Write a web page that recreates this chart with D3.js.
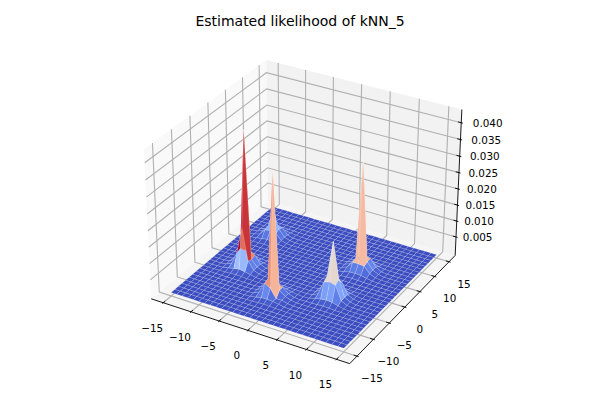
<!DOCTYPE html>
<html>
<head>
<meta charset="utf-8">
<script src="https://cdn.jsdelivr.net/npm/d3@7"></script>
<style>
  html, body { margin: 0; background: #fff; }
  text { font-family: "DejaVu Sans", sans-serif; fill: #000; }
</style>
</head>
<body>
<div id="chart"></div>
<script>
// Surface plot of a kNN density, drawn like a matplotlib 3D axes

const titleText = 'Estimated likelihood of kNN_5';

const gridX = [-15, -14, -13, -12, -11, -10, -9, -8, -7, -6, -5, -4, -3, -2, -1, 0, 1, 2, 3, 4, 5, 6, 7, 8, 9, 10, 11, 12, 13, 14, 15];
const gridY = gridX;
const floorValue = 0.0002;

const xTicks = [-15, -10, -5, 0, 5, 10, 15];
const yTicks = [-15, -10, -5, 0, 5, 10, 15];
const zTicks = [0.005, 0.01, 0.015, 0.02, 0.025, 0.03, 0.035, 0.04];
const zTickLabels = ['0.005', '0.010', '0.015', '0.020', '0.025', '0.030', '0.035', '0.040'];

// Patch centres on the grid, and the 7x7 heights read around each of them
// (rows run with y, columns with x)
const patchCentreX = [-9, -1, -10, 7, 7];
const patchCentreY = [-3, -8, 7, 5, -4];
const patchA = [
  [0.0003, 0.0003, 0.0004, 0.0005, 0.0004, 0.0003, 0.0003],
  [0.0003, 0.0006, 0.0010, 0.0013, 0.0010, 0.0006, 0.0003],
  [0.0004, 0.0012, 0.0050, 0.0135, 0.0035, 0.0011, 0.0004],
  [0.0005, 0.0015, 0.0055, 0.0420, 0.0030, 0.0012, 0.0005],
  [0.0004, 0.0012, 0.0040, 0.0045, 0.0035, 0.0011, 0.0004],
  [0.0003, 0.0006, 0.0010, 0.0012, 0.0010, 0.0006, 0.0003],
  [0.0003, 0.0003, 0.0004, 0.0005, 0.0004, 0.0003, 0.0003]
];
const patchB = [
  [0.0003, 0.0003, 0.0004, 0.0005, 0.0004, 0.0003, 0.0003],
  [0.0003, 0.0006, 0.0010, 0.0011, 0.0009, 0.0006, 0.0003],
  [0.0004, 0.0012, 0.0045, 0.0035, 0.0008, 0.0009, 0.0004],
  [0.0005, 0.0014, 0.0050, 0.0380, 0.0025, 0.0011, 0.0005],
  [0.0004, 0.0011, 0.0030, 0.0030, 0.0025, 0.0010, 0.0004],
  [0.0003, 0.0006, 0.0010, 0.0011, 0.0010, 0.0006, 0.0003],
  [0.0003, 0.0003, 0.0004, 0.0005, 0.0004, 0.0003, 0.0003]
];
const patchC = [
  [0.0002, 0.0003, 0.0003, 0.0004, 0.0003, 0.0003, 0.0002],
  [0.0003, 0.0005, 0.0008, 0.0010, 0.0008, 0.0005, 0.0003],
  [0.0003, 0.0008, 0.0026, 0.0030, 0.0026, 0.0008, 0.0003],
  [0.0004, 0.0010, 0.0030, 0.0085, 0.0030, 0.0010, 0.0004],
  [0.0003, 0.0008, 0.0026, 0.0030, 0.0026, 0.0008, 0.0003],
  [0.0003, 0.0005, 0.0008, 0.0010, 0.0008, 0.0005, 0.0003],
  [0.0002, 0.0003, 0.0003, 0.0004, 0.0003, 0.0003, 0.0002]
];
const patchD = [
  [0.0003, 0.0003, 0.0004, 0.0005, 0.0004, 0.0003, 0.0003],
  [0.0003, 0.0006, 0.0010, 0.0011, 0.0010, 0.0006, 0.0003],
  [0.0004, 0.0011, 0.0032, 0.0032, 0.0030, 0.0012, 0.0004],
  [0.0005, 0.0012, 0.0036, 0.0338, 0.0034, 0.0014, 0.0005],
  [0.0004, 0.0012, 0.0034, 0.0040, 0.0036, 0.0014, 0.0004],
  [0.0003, 0.0006, 0.0011, 0.0012, 0.0012, 0.0006, 0.0003],
  [0.0003, 0.0003, 0.0004, 0.0005, 0.0004, 0.0003, 0.0003]
];
const patchE = [
  [0.0003, 0.0003, 0.0004, 0.0005, 0.0004, 0.0003, 0.0003],
  [0.0003, 0.0007, 0.0012, 0.0014, 0.0012, 0.0007, 0.0003],
  [0.0004, 0.0013, 0.0055, 0.0060, 0.0055, 0.0013, 0.0004],
  [0.0005, 0.0015, 0.0065, 0.0175, 0.0065, 0.0015, 0.0005],
  [0.0004, 0.0013, 0.0045, 0.0050, 0.0045, 0.0013, 0.0004],
  [0.0003, 0.0007, 0.0012, 0.0012, 0.0012, 0.0007, 0.0003],
  [0.0003, 0.0003, 0.0004, 0.0005, 0.0004, 0.0003, 0.0003]
];
const patches = [patchA, patchB, patchC, patchD, patchE];

// ---------------------------------------------------------------------------
// Projection (same maths as mplot3d, elev 30, azim -60, dist 10)
// ---------------------------------------------------------------------------
const W = 600, H = 400;
const pxScale = 1910, centreX = 306, centreY = 204.5;
const boxAspect = [1.143, 1.143, 0.857];
const axisU = [0.866, 0.5, 0];
const axisV = [-0.25, 0.433, 0.866];
const axisW = [0.433, -0.75, 0.5];

// data -> unit cube
const xScale = d3.scaleLinear().domain([-16.5, 16.5]).range([0, 1]);
const yScale = d3.scaleLinear().domain([-16.5, 16.5]).range([0, 1]);
const zScale = d3.scaleLinear().domain([0, 0.043]).range([0, 1]);

const dot = (a, b) => a[0] * b[0] + a[1] * b[1] + a[2] * b[2];

function projectUnit(ux, uy, uz) {
  const q = [(ux - 0.5) * boxAspect[0], (uy - 0.5) * boxAspect[1], (uz - 0.5) * boxAspect[2]];
  const d = 10 - dot(q, axisW);
  return { x: centreX + pxScale * dot(q, axisU) / d, y: centreY - pxScale * dot(q, axisV) / d, depth: d };
}
const project = (x, y, z) => projectUnit(xScale(x), yScale(y), zScale(z));

const coolwarmStops = ['#3b4cc0', '#5977e3', '#7b9ff9', '#9ebeff', '#c0d4f5', '#dddcdc', '#f2cbb7', '#f7ac8e', '#ee8468', '#d65244', '#b40426'];
const coolwarm = d3.scaleLinear()
  .domain(coolwarmStops.map((c, i) => i / 10))
  .range(coolwarmStops)
  .interpolate(d3.interpolateRgb);

// ---------------------------------------------------------------------------
// Height grid
// ---------------------------------------------------------------------------
const zGrid = gridY.map(() => gridX.map(() => floorValue));
patches.forEach((patch, p) => {
  patch.forEach((row, r) => {
    row.forEach((v, c) => {
      zGrid[patchCentreY[p] + 15 + r - 3][patchCentreX[p] + 15 + c - 3] = v;
    });
  });
});

const faces = [];
for (let j = 0; j < gridY.length - 1; j++) {
  for (let i = 0; i < gridX.length - 1; i++) {
    const corners = [[i, j], [i + 1, j], [i + 1, j + 1], [i, j + 1]]
      .map(([a, b]) => project(gridX[a], gridY[b], zGrid[b][a]));
    faces.push({
      corners,
      depth: d3.mean(corners, (c) => c.depth),
      avgZ: (zGrid[j][i] + zGrid[j][i + 1] + zGrid[j + 1][i + 1] + zGrid[j + 1][i]) / 4
    });
  }
}
const colorNorm = d3.scaleLinear().domain(d3.extent(faces, (f) => f.avgZ)).range([0, 1]);

// ---------------------------------------------------------------------------
// Draw
// ---------------------------------------------------------------------------
const svg = d3.select('#chart').append('svg')
  .attr('width', W).attr('height', H)
  .style('display', 'block');

svg.append('text')
  .attr('x', 300).attr('y', 26)
  .attr('text-anchor', 'middle')
  .attr('font-size', 14)
  .text(titleText);

const lo = -1 / 48, hi = 1 + 1 / 48;
const polyPath = (pts) => 'M' + pts.map((p) => `${p.x},${p.y}`).join('L') + 'Z';

// panes
const panes = [
  { fill: '#f9f9f9', pts: [[lo, lo, lo], [lo, hi, lo], [lo, hi, hi], [lo, lo, hi]] },
  { fill: '#f2f2f2', pts: [[lo, hi, lo], [hi, hi, lo], [hi, hi, hi], [lo, hi, hi]] },
  { fill: '#f5f5f5', pts: [[lo, lo, lo], [hi, lo, lo], [hi, hi, lo], [lo, hi, lo]] }
];
svg.append('g').selectAll('path').data(panes).join('path')
  .attr('d', (d) => polyPath(d.pts.map((p) => projectUnit(p[0], p[1], p[2]))))
  .attr('fill', (d) => d.fill);

// grid lines
const gridColor = '#b0b0b0';
const gridG = svg.append('g').attr('fill', 'none').attr('stroke', gridColor).attr('stroke-width', 1.1);
const addGrid = (pts) => gridG.append('path').attr('d', 'M' + pts.map((p) => `${p.x},${p.y}`).join('L'));

xTicks.forEach((t) => {
  const u = xScale(t);
  addGrid([projectUnit(u, lo, lo), projectUnit(u, hi, lo), projectUnit(u, hi, hi)]);
});
yTicks.forEach((t) => {
  const u = yScale(t);
  addGrid([projectUnit(hi, u, lo), projectUnit(lo, u, lo), projectUnit(lo, u, hi)]);
});
zTicks.forEach((t) => {
  const u = zScale(t);
  addGrid([projectUnit(lo, lo, u), projectUnit(lo, hi, u), projectUnit(hi, hi, u)]);
});

// axis lines and tick stubs
const axisG = svg.append('g').attr('fill', 'none').attr('stroke', '#000').attr('stroke-width', 0.9);
const addAxis = (a, b) => {
  axisG.append('line').attr('x1', a.x).attr('y1', a.y).attr('x2', b.x).attr('y2', b.y);
};
addAxis(projectUnit(lo, lo, lo), projectUnit(hi, lo, lo));
addAxis(projectUnit(hi, lo, lo), projectUnit(hi, hi, lo));
addAxis(projectUnit(hi, hi, lo), projectUnit(hi, hi, hi));

const tickIn = 0.2 / 12, tickOut = 0.1 / 12;
const labelG = svg.append('g').attr('font-size', 10.4);

xTicks.forEach((t) => {
  const u = xScale(t);
  addAxis(projectUnit(u, lo - tickOut, lo), projectUnit(u, lo + tickIn, lo));
  const p = projectUnit(u, lo, lo);
  labelG.append('text').attr('x', p.x - 11).attr('y', p.y + 26)
    .attr('text-anchor', 'middle').attr('dominant-baseline', 'middle')
    .text(String(t).replace('-', '\u2212'));
});
yTicks.forEach((t) => {
  const u = yScale(t);
  addAxis(projectUnit(hi + tickOut, u, lo), projectUnit(hi - tickIn, u, lo));
  const p = projectUnit(hi, u, lo);
  labelG.append('text').attr('x', p.x + 15).attr('y', p.y + 23)
    .attr('text-anchor', 'middle').attr('dominant-baseline', 'middle')
    .text(String(t).replace('-', '\u2212'));
});
zTicks.forEach((t, i) => {
  const u = zScale(t);
  addAxis(projectUnit(hi + tickOut, hi, u), projectUnit(hi - tickIn, hi, u));
  const p = projectUnit(hi, hi, u);
  labelG.append('text').attr('x', p.x + 6 + 6 * u).attr('y', p.y + 1)
    .attr('text-anchor', 'start').attr('dominant-baseline', 'middle')
    .text(zTickLabels[i]);
});

// surface, far faces first; the thin pale stroke stands in for the antialiasing seams
faces.sort((a, b) => b.depth - a.depth);
svg.append('g').selectAll('path').data(faces).join('path')
  .attr('d', (f) => polyPath(f.corners))
  .attr('fill', (f) => coolwarm(colorNorm(f.avgZ)))
  .attr('stroke', '#fff')
  .attr('stroke-opacity', 0.27)
  .attr('stroke-width', 0.6);
</script>
</body>
</html>
